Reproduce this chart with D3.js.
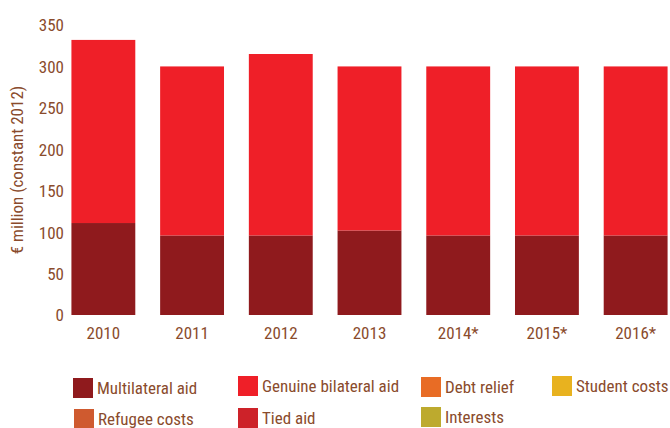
<!DOCTYPE html>
<html><head><meta charset="utf-8">
<script src="https://cdn.jsdelivr.net/npm/d3@7"></script>
<style>body{margin:0;background:#fff}text{font-family:"Liberation Sans Narrow","Arial Narrow","Roboto Condensed","Liberation Sans",sans-serif;fill:#8a4b2c}</style>
</head><body><svg id="c" width="670" height="428"></svg>
<script>
const years = ["2010","2011","2012","2013","2014*","2015*","2016*"];
const multilateral = [111, 96, 96, 102, 96, 96, 96];
const genuineBilateral = [221, 204, 219, 198, 204, 204, 204];
const debtRelief = [0,0,0,0,0,0,0];
const studentCosts = [0,0,0,0,0,0,0];
const refugeeCosts = [0,0,0,0,0,0,0];
const tiedAid = [0,0,0,0,0,0,0];
const interests = [0,0,0,0,0,0,0];
const yTicks = [0,50,100,150,200,250,300,350];
const seriesNames = ["Multilateral aid","Genuine bilateral aid","Debt relief","Student costs","Refugee costs","Tied aid","Interests"];
const seriesData = [multilateral, genuineBilateral, debtRelief, studentCosts, refugeeCosts, tiedAid, interests];
const colors = ["#8f1a1d","#ef1f28","#e86c25","#e8b21f","#cf5a2f","#cd2229","#bdaa2e"];

const svg = d3.select("#c");
const rows = years.map((y,i)=>{const r={year:y}; seriesNames.forEach((s,j)=>r[s]=seriesData[j][i]); return r;});
const stack = d3.stack().keys(seriesNames)(rows);

const x = d3.scaleBand().domain(years).range([59,680]).paddingInner(0.28).paddingOuter(0.14);
const y = d3.scaleLinear().domain([0,350]).range([315,25]);
const color = d3.scaleOrdinal().domain(seriesNames).range(colors);

svg.append("g").selectAll("g").data(stack).join("g").attr("fill",d=>color(d.key))
 .selectAll("rect").data(d=>d).join("rect")
 .attr("x",d=>x(d.data.year)).attr("width",x.bandwidth())
 .attr("y",d=>y(d[1])).attr("height",d=>y(d[0])-y(d[1]));

const ya = svg.append("g").attr("transform","translate(64,0)")
 .call(d3.axisLeft(y).tickValues(yTicks).tickSize(0).tickPadding(0));
ya.select(".domain").remove();
ya.selectAll("text").attr("font-size",17).attr("dy","0.35em").style("font-family",null);

const xa = svg.append("g").attr("transform","translate(0,326)")
 .call(d3.axisBottom(x).tickSize(0).tickPadding(0));
xa.select(".domain").remove();
xa.selectAll("text").attr("font-size",17).attr("dy","0.75em").style("font-family",null);

svg.append("text").attr("transform","translate(23,170) rotate(-90)").attr("text-anchor","middle")
 .attr("font-size",17).text("€ million (constant 2012)");

const legPos = [[73,378],[238,376],[421,377],[552,376],[74,409],[238,408],[421,407]];
const lg = svg.append("g").selectAll("g").data(seriesNames).join("g")
 .attr("transform",(d,i)=>`translate(${legPos[i][0]},${legPos[i][1]})`);
lg.append("rect").attr("width",20).attr("height",20).attr("fill",d=>color(d));
lg.append("text").attr("x",24).attr("y",10).attr("dy","0.35em").attr("font-size",17).text(d=>d);
</script></body></html>
